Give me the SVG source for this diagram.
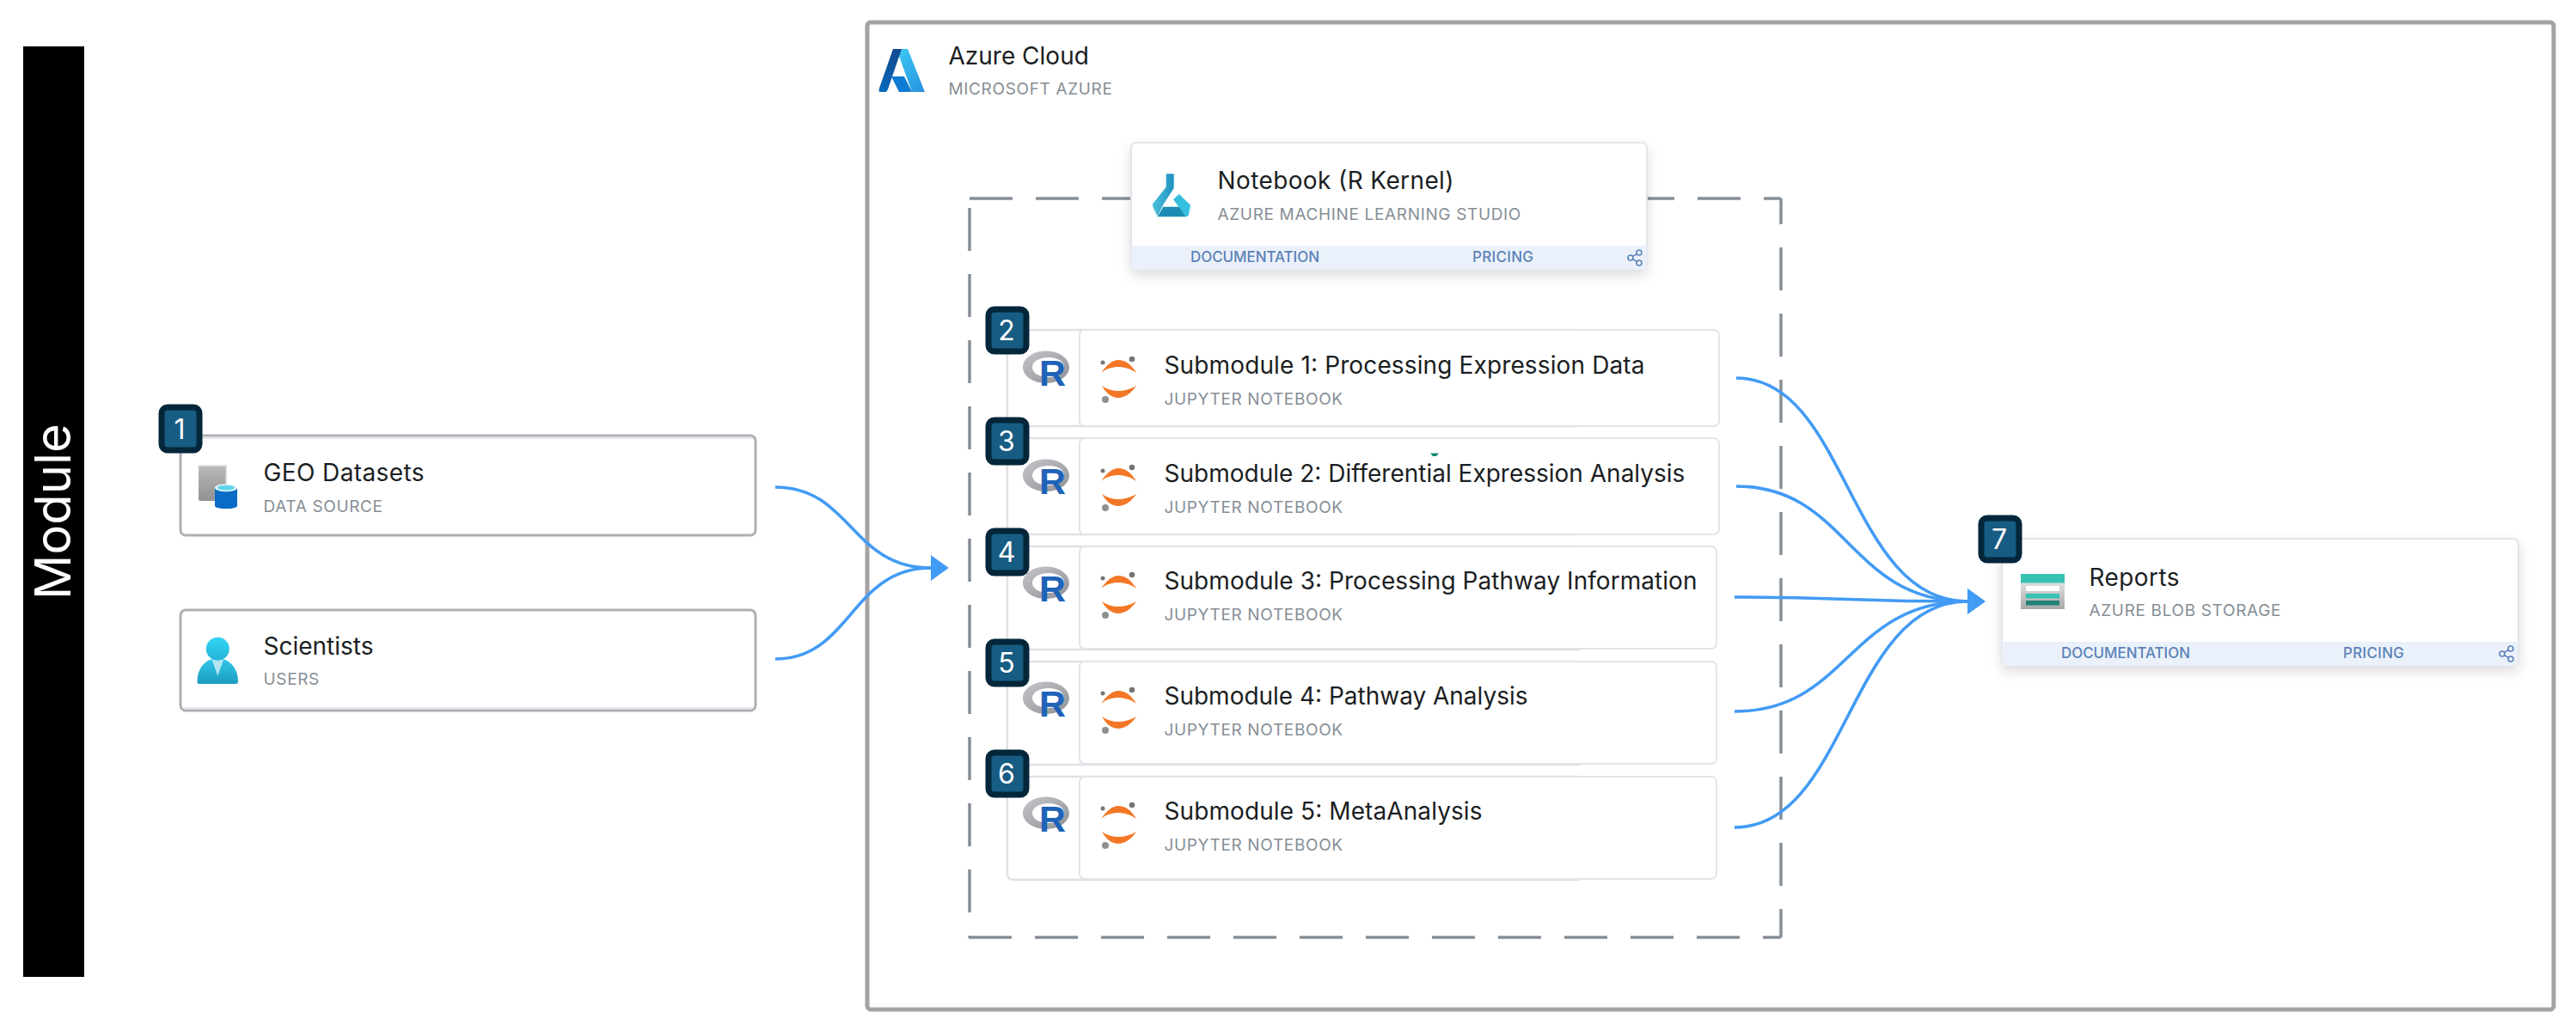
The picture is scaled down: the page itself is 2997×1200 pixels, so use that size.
<svg xmlns="http://www.w3.org/2000/svg" width="2997" height="1200" viewBox="0 0 2997 1200">
<style>
text{font-family:Inter,"Liberation Sans",sans-serif}
.t{font-size:28px;fill:#1b1e22}
.s{font-size:19px;fill:#868e96;letter-spacing:.65px}
.l{font-size:17px;fill:#5b82b8;font-weight:500}
.n{font-size:32px;fill:#fff;text-anchor:middle}
.card{fill:#fff;stroke:#e1e5ea;stroke-width:2}
.gcard{fill:#fff;stroke:#adb0b3;stroke-width:3}
.back{fill:#fff;stroke:#dee2e6;stroke-width:2.500}
.c{fill:none;stroke:#429bf5;stroke-width:3.6}
.d{stroke:#868e96;stroke-width:3.500;stroke-dasharray:50 27}
.b{fill:#175c82;stroke:#03263a;stroke-width:7}
</style>
<defs>
<linearGradient id="rg" x1="0" y1="0" x2="1" y2="1"><stop offset="0" stop-color="#c4c6ca"/><stop offset="1" stop-color="#8f9196"/></linearGradient>
<linearGradient id="az1" x1="0" y1="0" x2="0" y2="1"><stop offset="0" stop-color="#114a8b"/><stop offset="1" stop-color="#0669bc"/></linearGradient>
<linearGradient id="az2" x1="0" y1="0" x2="1" y2="1"><stop offset="0" stop-color="#3ccbf4"/><stop offset="1" stop-color="#2892df"/></linearGradient>
<linearGradient id="book" x1="0" y1="0" x2="0" y2="1"><stop offset="0" stop-color="#b8b8b8"/><stop offset="1" stop-color="#929292"/></linearGradient>
<linearGradient id="user" x1="0" y1="0" x2="0" y2="1"><stop offset="0" stop-color="#32d4f5"/><stop offset="1" stop-color="#25b4d8"/></linearGradient>
<linearGradient id="body" x1="0" y1="0" x2="0" y2="1"><stop offset="0" stop-color="#32c6e8"/><stop offset="1" stop-color="#1c9cc2"/></linearGradient>
<linearGradient id="neck" x1="0" y1="0" x2="1" y2="0"><stop offset="0" stop-color="#4fc0de"/><stop offset="1" stop-color="#1d93c0"/></linearGradient>
<linearGradient id="blob" x1="0" y1="0" x2="0" y2="1"><stop offset="0" stop-color="#f2f2f2"/><stop offset="1" stop-color="#a8a8a8"/></linearGradient>
<filter id="sh" x="-5%" y="-10%" width="110%" height="130%"><feDropShadow dx="0" dy="6" stdDeviation="7" flood-color="#000" flood-opacity=".13"/></filter>
<g id="rlogo">
<path fill-rule="evenodd" fill="url(#rg)" d="M1217 408.500c15 0 27 8.500 27 19 0 10-12 18.500-27 18.500s-27-8.500-27-18.500c0-10.500 12-19 27-19zM1220 416c-11 0-19 5-19 11.500s8 11.500 19 11.500 18-5 18-11.500-7-11.500-18-11.500z"/>
<text x="1209" y="449" font-size="43" font-weight="700" fill="#1e63b8" style="font-family:'Liberation Sans',sans-serif">R</text>
</g>
<g id="jup">
<path fill="#f37726" d="M1281 434c7-10 14-15 20-15 8 0 15 5 21 15-7-5-14-7-21-7-7 0-14 2-20 7z"/>
<path fill="#f37726" d="M1282 449c6 4 12 6 19 6 7 0 14-2 21-6-6 9-14 14-21 14-7 0-14-5-19-14z"/>
<circle cx="1283" cy="422" r="2.500" fill="#767677"/><circle cx="1317" cy="418" r="3.300" fill="#767677"/><circle cx="1286" cy="465" r="4" fill="#909090"/>
</g>
<g id="share" fill="none" stroke="#5b82b8" stroke-width="1.600"><circle cx="-6" cy="0" r="3"/><circle cx="4" cy="-6" r="3"/><circle cx="4" cy="6" r="3"/><path d="M-3.400-1.600 1.400-4.400M-3.400 1.600 1.400 4.400"/></g>
<marker id="ah" markerUnits="userSpaceOnUse" markerWidth="22" markerHeight="32" refX="0.500" refY="16" orient="auto"><path d="M0 1 21 16 0 31z" fill="#429bf5"/></marker>
</defs>

<g id="module-band"><rect x="27" y="54" width="71" height="1083" fill="#000"/><text transform="translate(82 698) rotate(-90)" font-size="58" fill="#fff">Module</text></g>

<g id="azure-cloud"><rect x="1009" y="26" width="1962" height="1149" rx="4" fill="#fff" stroke="#a3a3a3" stroke-width="5"/>
<path fill="url(#az2)" d="M1043 57h13l20 50h-15z"/><path fill="#0f7ad2" d="M1037 89h15l9 18h-15z"/><path fill="url(#az1)" d="M1039 57h10l-16 47-2 3h-8l-.500-3z"/>
<text class="t" x="1103.500" y="75">Azure Cloud</text><text class="s" x="1103.500" y="110">MICROSOFT AZURE</text></g>

<g id="group-boundary">
<line class="d" x1="1128" y1="231" x2="2072" y2="231"/>
<line class="d" x1="2072" y1="231" x2="2072" y2="1091" stroke-dashoffset="20"/>
<line class="d" x1="2072" y1="1091" x2="1126" y2="1091" stroke-dashoffset="29"/>
<line class="d" x1="1128" y1="1091" x2="1128" y2="231" stroke-dashoffset="48"/>
</g>

<g id="notebook"><rect x="1316" y="166" width="600" height="148" rx="6" class="card" filter="url(#sh)"/><path d="M1316 286h600v22a6 6 0 0 1-6 6h-588a6 6 0 0 1-6-6z" fill="#ebf1fa"/>
<path fill="url(#neck)" d="M1356.700 202.300h9v16.700l-12.400 19.300-6.600 13.400-5-10-1-4 16-20z"/><path fill="#34bfde" d="M1371.700 225.700 1385 238.700 1382.700 251 1380 252.300 1371.700 241 1365 232.300z"/><path fill="#1b8db5" d="M1353.300 240.700h18.400l8.300 11.600h-33.300z"/>
<text class="t" x="1416.500" y="220" textLength="275">Notebook (R Kernel)</text><text class="s" x="1416.500" y="256">AZURE MACHINE LEARNING STUDIO</text>
<text class="l" x="1385" y="305" textLength="150">DOCUMENTATION</text><text class="l" x="1713" y="305" textLength="71">PRICING</text><use href="#share" x="1903" y="300"/></g>

<g id="sub1"><rect x="1172" y="384" width="670" height="112" rx="6" class="back"/><rect x="1256" y="384" width="744" height="112" rx="6" class="card"/><use href="#rlogo"/><use href="#jup"/>
<text class="t" x="1354.500" y="435" textLength="559">Submodule 1: Processing Expression Data</text><text class="s" x="1354.500" y="471">JUPYTER NOTEBOOK</text></g>
<g id="sub2"><rect x="1172" y="510" width="670" height="112" rx="6" class="back"/><rect x="1256" y="510" width="744" height="112" rx="6" class="card"/><use href="#rlogo" y="126"/><use href="#jup" y="126"/>
<text class="t" x="1354.500" y="561">Submodule 2: Differential Expression Analysis</text><text class="s" x="1354.500" y="597">JUPYTER NOTEBOOK</text><path d="M1664 527.500h10l-3 3.500h-4z" fill="#0f8a74"/></g>
<g id="sub3"><rect x="1172" y="636" width="670" height="120" rx="6" class="back"/><rect x="1256" y="636" width="741" height="119" rx="6" class="card"/><use href="#rlogo" y="251"/><use href="#jup" y="251"/>
<text class="t" x="1354.500" y="686" textLength="620">Submodule 3: Processing Pathway Information</text><text class="s" x="1354.500" y="722">JUPYTER NOTEBOOK</text></g>
<g id="sub4"><rect x="1172" y="770" width="670" height="120" rx="6" class="back"/><rect x="1256" y="770" width="741" height="119" rx="6" class="card"/><use href="#rlogo" y="385"/><use href="#jup" y="385"/>
<text class="t" x="1354.500" y="820" textLength="423">Submodule 4: Pathway Analysis</text><text class="s" x="1354.500" y="856">JUPYTER NOTEBOOK</text></g>
<g id="sub5"><rect x="1172" y="904" width="670" height="120" rx="6" class="back"/><rect x="1256" y="904" width="741" height="119" rx="6" class="card"/><use href="#rlogo" y="519"/><use href="#jup" y="519"/>
<text class="t" x="1354.500" y="954" textLength="370">Submodule 5: MetaAnalysis</text><text class="s" x="1354.500" y="990">JUPYTER NOTEBOOK</text></g>

<g id="geo"><rect x="210" y="507" width="669" height="116" rx="6" class="gcard"/><rect x="213" y="509" width="663" height="2" fill="#e3e7eb"/>
<rect x="231" y="543" width="32" height="40" rx="2" fill="url(#book)"/><path d="M231 544c0-1 1-2 2-2h30v22" fill="none" stroke="#d4d4d4" stroke-width="1.500"/>
<path d="M250 567.700v21c0 4.500 26 4.500 26 0v-21z" fill="#0a6cc4"/><ellipse cx="263" cy="567.700" rx="13" ry="4.500" fill="#e8f6fb"/><ellipse cx="263" cy="567.700" rx="10" ry="3" fill="#5fd4ee"/>
<text class="t" x="306.500" y="560" textLength="187">GEO Datasets</text><text class="s" x="306.500" y="596">DATA SOURCE</text></g>
<g id="scientists"><rect x="210" y="710" width="669" height="117" rx="6" class="gcard"/><rect x="213" y="823" width="663" height="2" fill="#e3e7eb"/>
<path d="M229.500 793c0-13 6.500-22 15.500-25.500h16c9 3.500 16 12.500 16 25.500 0 2-1 3-3 3h-42c-2 0-2.500-1-2.500-3z" fill="url(#body)"/><path d="M246.700 768H260l-6.700 18.500z" fill="#b3e6f2"/><circle cx="253.300" cy="755.300" r="13.500" fill="url(#user)"/>
<text class="t" x="306.500" y="762">Scientists</text><text class="s" x="306.500" y="797">USERS</text></g>

<g id="reports"><rect x="2329" y="627" width="601" height="148" rx="6" class="card" filter="url(#sh)"/><path d="M2329 747h601v22a6 6 0 0 1-6 6h-589a6 6 0 0 1-6-6z" fill="#ebf1fa"/>
<rect x="2351" y="668" width="51" height="41" fill="url(#blob)"/><rect x="2351" y="668" width="51" height="10.500" fill="#37c2b1"/><rect x="2357" y="682" width="39" height="6" fill="#fff"/><rect x="2357" y="691" width="39" height="5.500" fill="#37c2b1"/><rect x="2357" y="699" width="39" height="5.500" fill="#258277"/>
<text class="t" x="2430.500" y="682" textLength="105">Reports</text><text class="s" x="2430.500" y="717">AZURE BLOB STORAGE</text>
<text class="l" x="2398" y="766" textLength="150">DOCUMENTATION</text><text class="l" x="2726" y="766" textLength="71">PRICING</text><use href="#share" x="2917" y="761"/></g>

<g id="connectors">
<path class="c" marker-end="url(#ah)" d="M902 567C990 567 990 661 1083 661"/>
<path class="c" marker-end="url(#ah)" d="M902 767C990 767 990 661 1083 661"/>
<path class="c" marker-end="url(#ah)" d="M2020 440C2150 440 2150 700 2289 700"/>
<path class="c" marker-end="url(#ah)" d="M2020 566C2150 566 2150 700 2289 700"/>
<path class="c" marker-end="url(#ah)" d="M2018 695C2150 695 2150 700 2289 700"/>
<path class="c" marker-end="url(#ah)" d="M2018 828C2150 828 2150 700 2289 700"/>
<path class="c" marker-end="url(#ah)" d="M2018 963C2150 963 2150 700 2289 700"/>
</g>

<g id="badges">
<g id="b1"><rect x="188" y="474" width="44" height="50" rx="7" class="b"/><text class="n" x="209" y="511">1</text></g>
<g id="b2"><rect x="1150" y="360" width="44" height="49" rx="7" class="b"/><text class="n" x="1171" y="396">2</text></g>
<g id="b3"><rect x="1150" y="489" width="44" height="49" rx="7" class="b"/><text class="n" x="1171" y="525">3</text></g>
<g id="b4"><rect x="1150" y="618" width="44" height="49" rx="7" class="b"/><text class="n" x="1171" y="654">4</text></g>
<g id="b5"><rect x="1150" y="747" width="44" height="49" rx="7" class="b"/><text class="n" x="1171" y="783">5</text></g>
<g id="b6"><rect x="1150" y="876" width="44" height="49" rx="7" class="b"/><text class="n" x="1171" y="912">6</text></g>
<g id="b7"><rect x="2305" y="603" width="44" height="49" rx="7" class="b"/><text class="n" x="2326" y="639">7</text></g>
</g>
</svg>
